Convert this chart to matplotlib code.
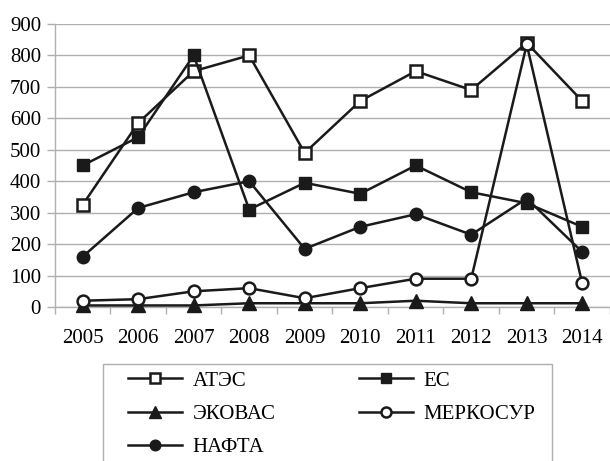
import matplotlib
matplotlib.use("Agg")
import matplotlib.pyplot as plt
from matplotlib.patches import Rectangle
import numpy as np

years = ["2005", "2006", "2007", "2008", "2009", "2010", "2011", "2012", "2013", "2014"]
apec = [325, 585, 750, 800, 490, 655, 750, 690, 840, 655]
eu = [450, 540, 800, 310, 395, 360, 450, 365, 330, 255]
ecowas = [5, 5, 5, 12, 12, 12, 20, 12, 12, 12]
mercosur = [20, 25, 50, 60, 28, 60, 90, 90, 835, 75]
nafta = [160, 315, 365, 400, 185, 255, 295, 230, 345, 175]
yticks = [0, 100, 200, 300, 400, 500, 600, 700, 800, 900]

plt.rcParams['font.family'] = ['Liberation Serif', 'DejaVu Serif']

W, H = 610, 461
fig = plt.figure(figsize=(W / 100, H / 100), dpi=100)
ax = fig.add_axes([0.090, 0.334, 0.910, 0.614])
x = np.arange(len(years))

lw = 1.8
ms = 8.5
h_apec, = ax.plot(x, apec, '-s', color='#1a1a1a', lw=lw, ms=ms, mfc='white', mec='#1a1a1a', mew=1.8, label='АТЭС', zorder=3)
h_eu, = ax.plot(x, eu, '-s', color='#1a1a1a', lw=lw, ms=ms, mfc='#1a1a1a', mec='#1a1a1a', label='ЕС', zorder=3)
h_eco, = ax.plot(x, ecowas, '-^', color='#1a1a1a', lw=lw, ms=ms + 1, mfc='#1a1a1a', mec='#1a1a1a', label='ЭКОВАС', zorder=3)
h_mer, = ax.plot(x, mercosur, '-o', color='#1a1a1a', lw=lw, ms=ms, mfc='white', mec='#1a1a1a', mew=1.8, label='МЕРКОСУР', zorder=3)
h_naf, = ax.plot(x, nafta, '-o', color='#1a1a1a', lw=lw, ms=ms + 0.5, mfc='#1a1a1a', mec='#1a1a1a', label='НАФТА', zorder=3)

ax.set_xlim(-0.5, len(years) - 0.5)
ax.set_ylim(0, 900)
ax.set_yticks(yticks)
ax.set_yticklabels([str(v) for v in yticks])
ax.set_xticks(x)
ax.set_xticklabels(years)
ax.set_xticks(np.arange(-0.5, len(years), 1.0), minor=True)
ax.tick_params(axis='x', which='major', length=0, pad=16, labelsize=15)
ax.tick_params(axis='x', which='minor', length=5, color='#b0b0b0', width=1)
ax.tick_params(axis='y', length=6, color='#b0b0b0', width=1, pad=4, labelsize=15, direction='out')
ax.yaxis.grid(True, color='#b0b0b0', lw=1)
ax.set_axisbelow(True)
for s in ['top', 'right']:
    ax.spines[s].set_visible(False)
ax.spines['left'].set_color('#b0b0b0')
ax.spines['bottom'].set_color('#b0b0b0')
ax.spines['left'].set_linewidth(1)
ax.spines['bottom'].set_linewidth(1)
for ln in ax.lines:
    ln.set_clip_on(False)

# legend box
fig.patches.append(Rectangle((103 / W, -0.1), 449 / W, (H - 364) / H + 0.1,
                             transform=fig.transFigure, fill=False,
                             edgecolor='#b0b0b0', lw=1, zorder=0))

handles = [h_apec, h_eco, h_naf, h_eu, h_mer]
leg = fig.legend(handles=handles, labels=[h.get_label() for h in handles],
                 loc='upper left', bbox_to_anchor=(128 / W, 1 - 371 / H),
                 ncol=2, fontsize=15, frameon=False,
                 handlelength=2.6, handletextpad=0.5, columnspacing=4.0,
                 labelspacing=0.66, borderpad=0, borderaxespad=0, markerscale=0.85)

fig.savefig('out.png', dpi=100)
